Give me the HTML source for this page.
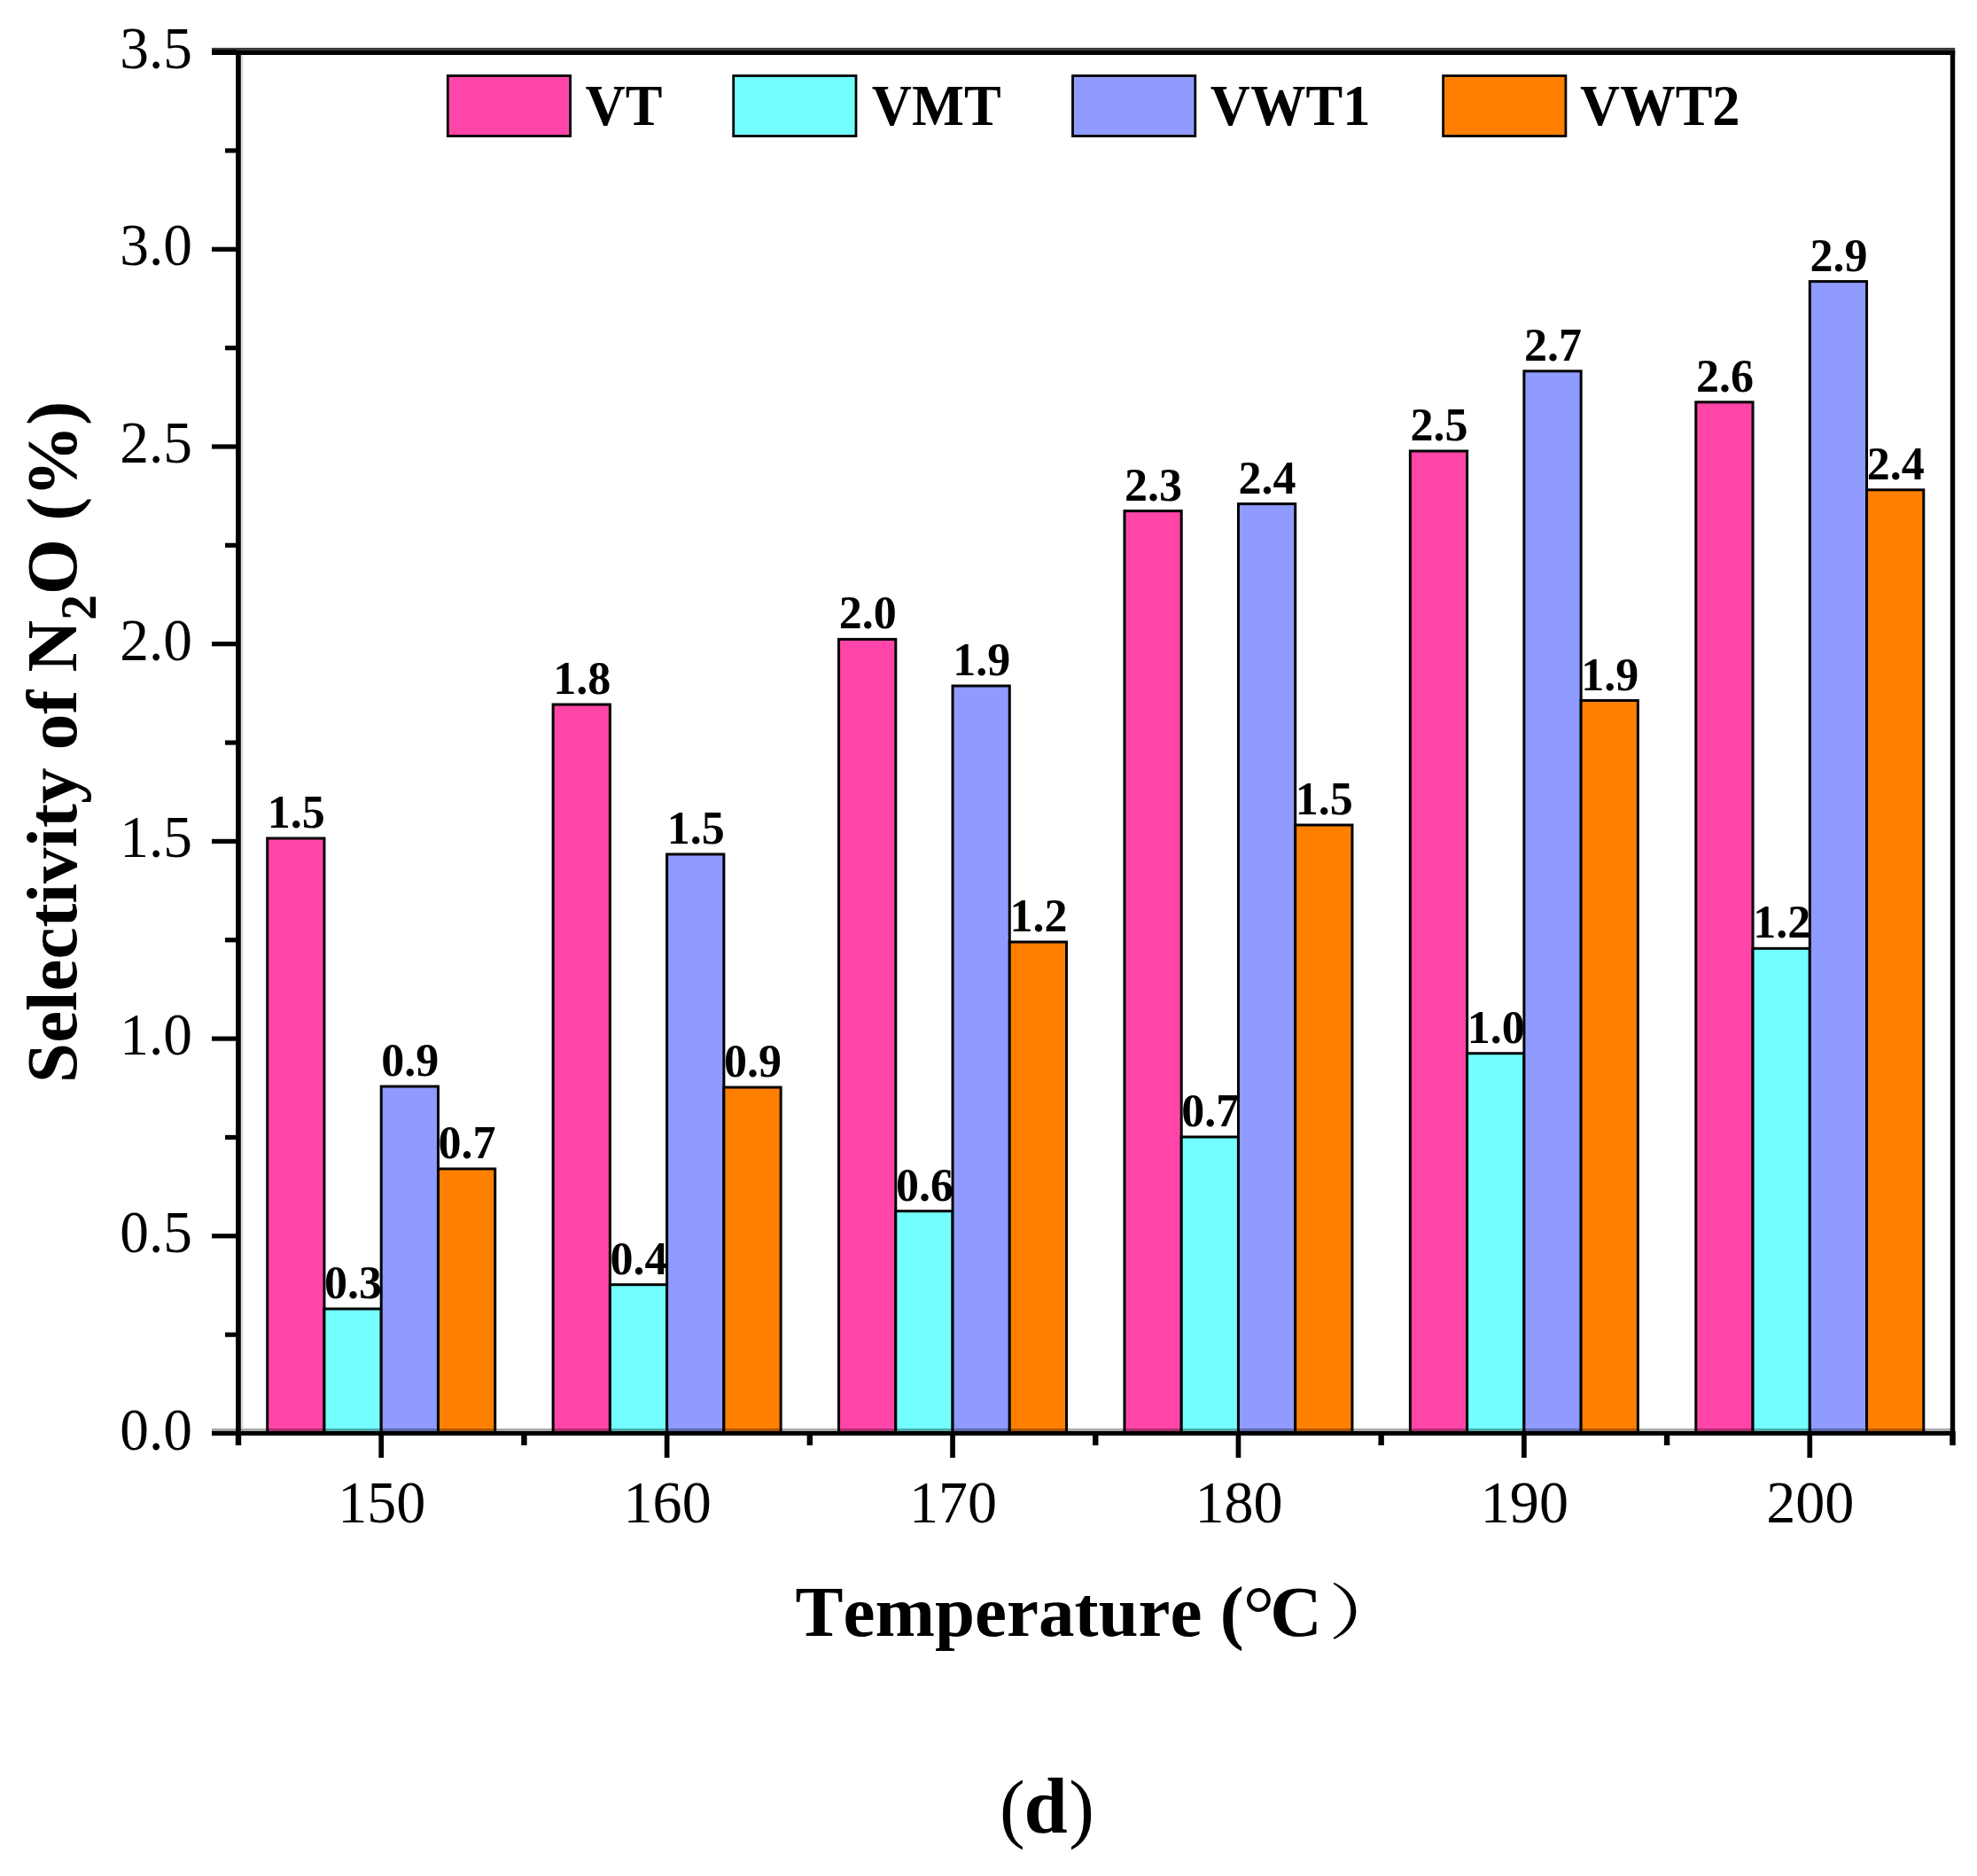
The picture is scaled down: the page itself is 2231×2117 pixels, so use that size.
<!DOCTYPE html>
<html><head><meta charset="utf-8"><title>Selectivity of N2O vs Temperature</title>
<style>html,body{margin:0;padding:0;background:#fff;}body{width:2231px;height:2117px;overflow:hidden;}svg{display:block;}</style>
</head><body>
<svg width="2231" height="2117" viewBox="0 0 2231 2117">
<style>text{font-family:"Liberation Serif","Times New Roman",serif;font-kerning:none;fill:#000}.b{font-weight:bold}</style>
<rect x="0" y="0" width="2231" height="2117" fill="#fff"/>
<g stroke="#000" stroke-width="3">
<rect x="301.71" y="946.00" width="64.25" height="671.50" fill="#FF45A8"/>
<rect x="365.96" y="1477.00" width="64.25" height="140.50" fill="#73FFFF"/>
<rect x="430.21" y="1226.00" width="64.25" height="391.50" fill="#8F9BFF"/>
<rect x="494.46" y="1319.00" width="64.25" height="298.50" fill="#FF8000"/>
<rect x="624.12" y="795.00" width="64.25" height="822.50" fill="#FF45A8"/>
<rect x="688.38" y="1449.70" width="64.25" height="167.80" fill="#73FFFF"/>
<rect x="752.62" y="964.00" width="64.25" height="653.50" fill="#8F9BFF"/>
<rect x="816.88" y="1227.00" width="64.25" height="390.50" fill="#FF8000"/>
<rect x="946.54" y="721.40" width="64.25" height="896.10" fill="#FF45A8"/>
<rect x="1010.79" y="1366.70" width="64.25" height="250.80" fill="#73FFFF"/>
<rect x="1075.04" y="774.00" width="64.25" height="843.50" fill="#8F9BFF"/>
<rect x="1139.29" y="1063.00" width="64.25" height="554.50" fill="#FF8000"/>
<rect x="1268.96" y="576.60" width="64.25" height="1040.90" fill="#FF45A8"/>
<rect x="1333.21" y="1283.00" width="64.25" height="334.50" fill="#73FFFF"/>
<rect x="1397.46" y="568.60" width="64.25" height="1048.90" fill="#8F9BFF"/>
<rect x="1461.71" y="931.00" width="64.25" height="686.50" fill="#FF8000"/>
<rect x="1591.38" y="509.00" width="64.25" height="1108.50" fill="#FF45A8"/>
<rect x="1655.62" y="1188.70" width="64.25" height="428.80" fill="#73FFFF"/>
<rect x="1719.88" y="418.80" width="64.25" height="1198.70" fill="#8F9BFF"/>
<rect x="1784.12" y="790.50" width="64.25" height="827.00" fill="#FF8000"/>
<rect x="1913.79" y="453.80" width="64.25" height="1163.70" fill="#FF45A8"/>
<rect x="1978.04" y="1070.30" width="64.25" height="547.20" fill="#73FFFF"/>
<rect x="2042.29" y="317.60" width="64.25" height="1299.90" fill="#8F9BFF"/>
<rect x="2106.54" y="552.80" width="64.25" height="1064.70" fill="#FF8000"/>
</g>
<g class="b" font-size="52" text-anchor="middle">
<text x="334.33" y="934.00">1.5</text>
<text x="398.58" y="1465.00">0.3</text>
<text x="462.83" y="1214.00">0.9</text>
<text x="527.08" y="1307.00">0.7</text>
<text x="656.75" y="783.00">1.8</text>
<text x="721.00" y="1437.70">0.4</text>
<text x="785.25" y="952.00">1.5</text>
<text x="849.50" y="1215.00">0.9</text>
<text x="979.17" y="709.40">2.0</text>
<text x="1043.42" y="1354.70">0.6</text>
<text x="1107.67" y="762.00">1.9</text>
<text x="1171.92" y="1051.00">1.2</text>
<text x="1301.58" y="564.60">2.3</text>
<text x="1365.83" y="1271.00">0.7</text>
<text x="1430.08" y="556.60">2.4</text>
<text x="1494.33" y="919.00">1.5</text>
<text x="1624.00" y="497.00">2.5</text>
<text x="1688.25" y="1176.70">1.0</text>
<text x="1752.50" y="406.80">2.7</text>
<text x="1816.75" y="778.50">1.9</text>
<text x="1946.42" y="441.80">2.6</text>
<text x="2010.67" y="1058.30">1.2</text>
<text x="2074.92" y="305.60">2.9</text>
<text x="2139.17" y="540.80">2.4</text>
</g>
<rect x="239" y="53.9" width="1967.2" height="3" fill="#3a3a3a"/>
<rect x="239" y="56.9" width="1967.2" height="5.1" fill="#000"/>
<rect x="271.8" y="62" width="2.6" height="1550" fill="#ddd"/>
<rect x="266.1" y="56.9" width="5.7" height="1574.1" fill="#000"/>
<rect x="2200.8" y="56.9" width="5.4" height="1574.1" fill="#000"/>
<rect x="239" y="1612" width="1967.2" height="3" fill="#000" fill-opacity="0.33"/>
<rect x="239" y="1615" width="1967.2" height="5" fill="#000"/>
<g font-size="68.5" text-anchor="end">
<rect x="239" y="1614.90" width="28" height="5.2" fill="#000"/>
<text transform="translate(217,1635.50) scale(0.955,1)">0.0</text>
<rect x="239" y="1392.20" width="28" height="5.2" fill="#000"/>
<text transform="translate(217,1412.80) scale(0.955,1)">0.5</text>
<rect x="239" y="1169.50" width="28" height="5.2" fill="#000"/>
<text transform="translate(217,1190.10) scale(0.955,1)">1.0</text>
<rect x="239" y="946.80" width="28" height="5.2" fill="#000"/>
<text transform="translate(217,967.40) scale(0.955,1)">1.5</text>
<rect x="239" y="724.10" width="28" height="5.2" fill="#000"/>
<text transform="translate(217,744.70) scale(0.955,1)">2.0</text>
<rect x="239" y="501.40" width="28" height="5.2" fill="#000"/>
<text transform="translate(217,522.00) scale(0.955,1)">2.5</text>
<rect x="239" y="278.70" width="28" height="5.2" fill="#000"/>
<text transform="translate(217,299.30) scale(0.955,1)">3.0</text>
<rect x="239" y="56.00" width="28" height="5.2" fill="#000"/>
<text transform="translate(217,76.60) scale(0.955,1)">3.5</text>
</g>
<rect x="254" y="1503.55" width="13" height="5.2" fill="#000"/>
<rect x="254" y="1280.85" width="13" height="5.2" fill="#000"/>
<rect x="254" y="1058.15" width="13" height="5.2" fill="#000"/>
<rect x="254" y="835.45" width="13" height="5.2" fill="#000"/>
<rect x="254" y="612.75" width="13" height="5.2" fill="#000"/>
<rect x="254" y="390.05" width="13" height="5.2" fill="#000"/>
<rect x="254" y="167.35" width="13" height="5.2" fill="#000"/>
<g font-size="68.5" text-anchor="middle">
<rect x="427.36" y="1615" width="5.7" height="30" fill="#000"/>
<text transform="translate(430.71,1717.5) scale(0.965,1)">150</text>
<rect x="749.77" y="1615" width="5.7" height="30" fill="#000"/>
<text transform="translate(753.12,1717.5) scale(0.965,1)">160</text>
<rect x="1072.19" y="1615" width="5.7" height="30" fill="#000"/>
<text transform="translate(1075.54,1717.5) scale(0.965,1)">170</text>
<rect x="1394.61" y="1615" width="5.7" height="30" fill="#000"/>
<text transform="translate(1397.96,1717.5) scale(0.965,1)">180</text>
<rect x="1717.03" y="1615" width="5.7" height="30" fill="#000"/>
<text transform="translate(1720.38,1717.5) scale(0.965,1)">190</text>
<rect x="2039.44" y="1615" width="5.7" height="30" fill="#000"/>
<text transform="translate(2042.79,1717.5) scale(0.965,1)">200</text>
</g>
<rect x="265.80" y="1615" width="6.4" height="16" fill="#000"/>
<rect x="588.22" y="1615" width="6.4" height="16" fill="#000"/>
<rect x="910.63" y="1615" width="6.4" height="16" fill="#000"/>
<rect x="1233.05" y="1615" width="6.4" height="16" fill="#000"/>
<rect x="1555.47" y="1615" width="6.4" height="16" fill="#000"/>
<rect x="1877.88" y="1615" width="6.4" height="16" fill="#000"/>
<rect x="2200.30" y="1615" width="6.4" height="16" fill="#000"/>
<rect x="505.30" y="85.5" width="138.3" height="68" fill="#FF45A8" stroke="#000" stroke-width="2.8"/>
<text class="b" font-size="66.5" transform="translate(660.55,140.6) scale(0.94,1)">VT</text>
<rect x="827.70" y="85.5" width="138.3" height="68" fill="#73FFFF" stroke="#000" stroke-width="2.8"/>
<text class="b" font-size="66.5" transform="translate(983.85,140.6) scale(0.94,1)">VMT</text>
<rect x="1210.50" y="85.5" width="138.3" height="68" fill="#8F9BFF" stroke="#000" stroke-width="2.8"/>
<text class="b" font-size="66.5" transform="translate(1365.85,140.6) scale(0.94,1)">VWT1</text>
<rect x="1628.60" y="85.5" width="138.3" height="68" fill="#FF8000" stroke="#000" stroke-width="2.8"/>
<text class="b" font-size="66.5" transform="translate(1783.05,140.6) scale(0.94,1)">VWT2</text>
<text class="b" font-size="81" transform="translate(85.5,1221.9) rotate(-90)">Selectivity of N<tspan font-size="58" dy="22">2</tspan><tspan dy="-22">O (%)</tspan></text>
<text class="b" font-size="81" x="897.6" y="1846">Temperature (<tspan font-weight="normal" font-size="88.6" x="1402.8" y="1851">°</tspan><tspan x="1433.2" y="1846">C</tspan></text>
<text font-size="68" transform="translate(1498.7,1843.7) scale(1.33,1)" style='font-family:"Liberation Serif","Noto Serif CJK SC",serif'>）</text>
<text font-size="86" x="1127.9" y="2068.6">(<tspan class="b" font-size="88.5" x="1155.4" y="2067.8">d</tspan><tspan x="1206.3" y="2068.6">)</tspan></text>
</svg>
</body></html>
